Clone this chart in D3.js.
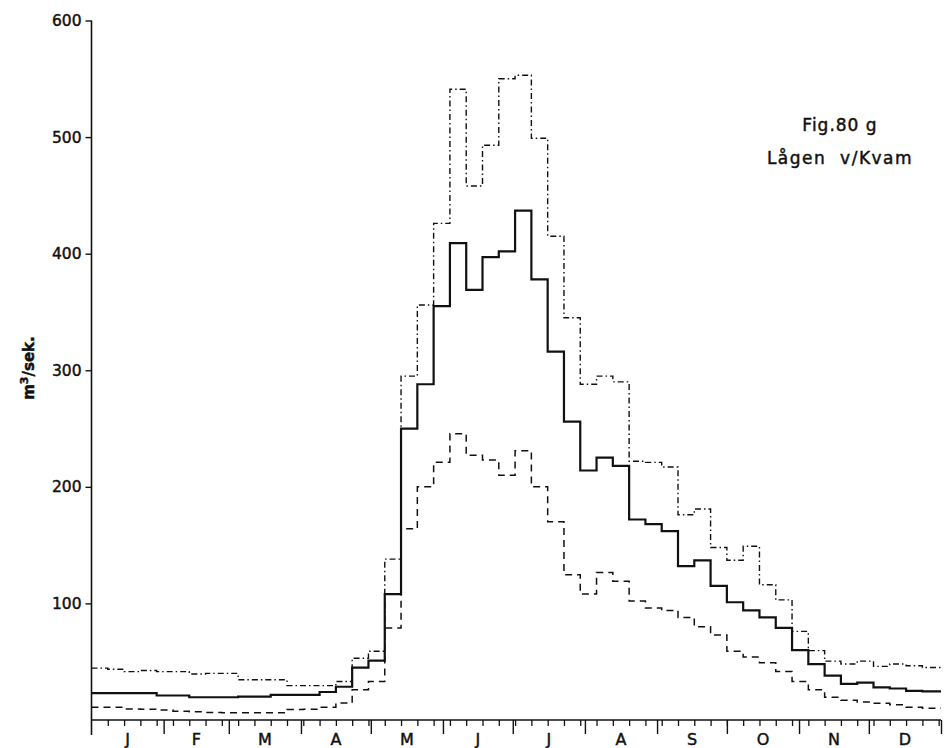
<!DOCTYPE html>
<html>
<head>
<meta charset="utf-8">
<script src="https://cdn.jsdelivr.net/npm/d3@7"></script>
<style>
  html, body { margin: 0; padding: 0; background: #fff; }
  svg { display: block; }
  text { font-family: "DejaVu Sans", sans-serif; fill: #111; stroke: #111; stroke-width: 0.45px; }
</style>
</head>
<body>
<svg id="chart" width="945" height="748"></svg>
<script>
// Weekly discharge (m³/sek.), 52 weeks from 1 January
const weeks = d3.range(52);
const meanFlow = [23, 23, 23, 23, 21, 21, 19.5, 19.5, 19.5, 20, 20, 21.5, 21.5, 21.5, 24, 28.5, 45, 51,
  108, 250, 288, 355, 409, 369, 397, 402, 437, 378, 316, 256, 214, 225, 218, 172, 168, 162, 132, 137,
  115, 101, 94, 88, 79, 60, 48, 38, 31, 32, 28, 27, 25, 24.5];
const maxFlow = [44.5, 43.5, 41.5, 42.5, 41.5, 41.5, 39.5, 40, 40, 34.5, 34.5, 34.5, 29.5, 29.5, 29.5, 33, 53, 59,
  138, 295, 356, 426, 541, 458, 493, 550, 553, 499, 415, 345, 288, 295, 290, 222, 221, 217, 176, 181,
  148, 137, 149, 116, 103, 76, 59.5, 50.5, 48, 50.5, 46, 48, 46.5, 45];
const minFlow = [11, 11, 9.5, 9.2, 8.5, 7.5, 7, 6.5, 6.3, 6.3, 6.3, 6.3, 9, 9.2, 11, 14.5, 26, 33,
  79, 164, 200, 221, 245.5, 227, 223, 210, 231, 200, 170, 124.5, 108, 126.5, 119, 102, 96, 94, 88, 80,
  73, 59, 54, 49, 41.5, 33, 26, 19.5, 17, 15.5, 14.3, 13, 11, 10];
const monthLabels = ["J", "F", "M", "A", "M", "J", "J", "A", "S", "O", "N", "D"];
const monthDays = [31, 28, 31, 30, 31, 30, 31, 31, 30, 31, 30, 31];
const yTicks = [100, 200, 300, 400, 500, 600];
const yLabel = "m³/sek.";
const title1 = "Fig.80 g";
const title2 = "Lågen  v/Kvam";

const svg = d3.select("#chart");
const x = d3.scaleLinear().domain([0, 365]).range([91.5, 941]);
const y = d3.scaleLinear().domain([0, 600]).range([720, 20.5]);

// month boundaries
const monthEnds = d3.cumsum(monthDays);
const monthStarts = [0, ...Array.from(monthEnds).slice(0, 11)];

// Y axis
const yAxis = d3.axisLeft(y).tickValues(yTicks).tickSize(6).tickPadding(4).tickFormat(d3.format("d"));
const gy = svg.append("g").attr("transform", `translate(${x(0)},0)`).call(yAxis);
gy.select(".domain").remove();
gy.selectAll(".tick line").attr("stroke", "#111").attr("stroke-width", 1.4);
gy.selectAll(".tick text").style("font-size", "15.5px").attr("fill", "#111");
svg.append("line").attr("x1", x(0)).attr("x2", x(0)).attr("y1", y(600)).attr("y2", 735)
  .attr("stroke", "#111").attr("stroke-width", 1.6);

// X axis: weekly minor ticks, month boundary major ticks
const weekTickDays = d3.range(7, 365, 7);
const xMinor = d3.axisBottom(x).tickValues(weekTickDays).tickSize(6).tickFormat("");
const gx1 = svg.append("g").attr("transform", "translate(0,720)").call(xMinor);
gx1.select(".domain").remove();
gx1.selectAll(".tick line").attr("stroke", "#111").attr("stroke-width", 1.3);
const xMajor = d3.axisBottom(x).tickValues(Array.from(monthEnds)).tickSize(14).tickFormat("");
const gx2 = svg.append("g").attr("transform", "translate(0,720)").call(xMajor);
gx2.select(".domain").remove();
gx2.selectAll(".tick line").attr("stroke", "#111").attr("stroke-width", 1.4);
svg.append("line").attr("x1", x(0)).attr("x2", x(365)).attr("y1", 720).attr("y2", 720)
  .attr("stroke", "#111").attr("stroke-width", 1.6);

svg.append("g").selectAll("text").data(monthLabels).join("text")
  .attr("x", (d, i) => x(monthStarts[i] + monthDays[i] / 2))
  .attr("y", 745)
  .attr("text-anchor", "middle")
  .style("font-size", "16px")
  .text(d => d);

// Step lines
function pts(vals) {
  const p = vals.map((v, i) => [i * 7, v]);
  p.push([365, vals[vals.length - 1]]);
  return p;
}
const line = d3.line().x(d => x(d[0])).y(d => y(d[1])).curve(d3.curveStepAfter);

svg.append("path").datum(pts(maxFlow)).attr("d", line)
  .attr("fill", "none").attr("stroke", "#111").attr("stroke-width", 1.4)
  .attr("stroke-dasharray", "6,3,1.5,3");
svg.append("path").datum(pts(minFlow)).attr("d", line)
  .attr("fill", "none").attr("stroke", "#111").attr("stroke-width", 1.5)
  .attr("stroke-dasharray", "7,5");
svg.append("path").datum(pts(meanFlow)).attr("d", line)
  .attr("fill", "none").attr("stroke", "#111").attr("stroke-width", 2.2);

// Y label
const yl = svg.append("text")
  .attr("transform", "translate(34,368) rotate(-90)")
  .attr("text-anchor", "middle")
  .style("font-size", "15px").style("font-weight", "bold");
yl.append("tspan").text("m");
yl.append("tspan").attr("baseline-shift", "super").style("font-size", "11px").text("3");
yl.append("tspan").text("/sek.");

// Titles
svg.append("text").attr("x", 840).attr("y", 131).attr("text-anchor", "middle")
  .style("font-size", "17px").style("letter-spacing", "1px").text(title1);
svg.append("text").attr("x", 840).attr("y", 164).attr("text-anchor", "middle")
  .style("font-size", "17px").style("letter-spacing", "1.5px").style("white-space", "pre")
  .attr("xml:space", "preserve").text(title2);
</script>
</body>
</html>
